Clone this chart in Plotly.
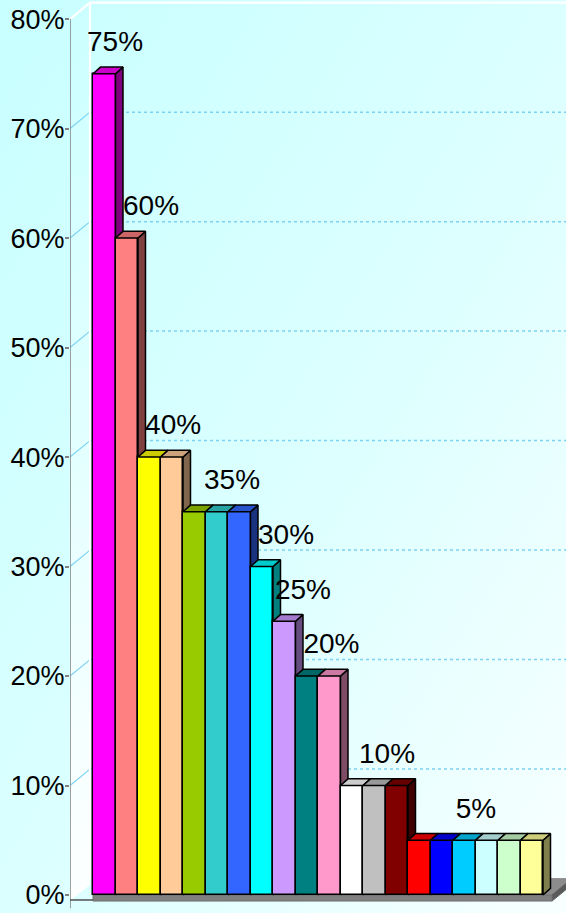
import base64
import plotly.graph_objects as go

# ---------------- data ----------------
VALUES = [75, 60, 40, 40, 35, 35, 35, 30, 25, 20, 20, 10, 10, 10, 5, 5, 5, 5, 5, 5]
COLORS = ["#FF00FF", "#FF8080", "#FFFF00", "#FFCC99", "#99CC00", "#33CCCC", "#3366FF",
          "#00FFFF", "#CC99FF", "#008080", "#FF99CC", "#FFFFFF", "#C0C0C0", "#800000",
          "#FF0000", "#0000FF", "#00CCFF", "#CCFFFF", "#CCFFCC", "#FFFF99"]
LABEL_TEXT = ["75%", "60%", "40%", "35%", "30%", "25%", "20%", "10%", "5%"]
LABEL_VALUES = [75, 60, 40, 35, 30, 25, 20, 10, 5]
LABEL_X = [0.48, 2.08, 3.06, 5.68, 8.08, 8.83, 10.1, 12.57, 16.52]
Y_TICKS = [0, 10, 20, 30, 40, 50, 60, 70, 80]
Y_TICK_TEXT = [f"{t}%" for t in Y_TICKS]

# ---------------- geometry / style ----------------
X_MIN, X_MAX = -1.522, 20.522
Y_MIN, Y_MAX = -1.64, 81.74
AXIS_X = X_MIN
WALL_DX, WALL_DV = 0.889, 1.5
BAR_DX, BAR_DV = 0.333, 0.61
LABEL_LIFT = 2.7
FLOOR_DROP = 0.55
FONT = "Liberation Sans, Arial, sans-serif"


def shade(hexcol, f):
    h = hexcol.lstrip("#")
    r, g, b = (int(h[i:i + 2], 16) for i in (0, 2, 4))
    return "#%02X%02X%02X" % (int(r * f), int(g * f), int(b * f))


def poly(xs, ys, fill, z, line_color="black", lw=1.5):
    return go.Scatter(x=xs + [xs[0]], y=ys + [ys[0]], mode="lines", fill="toself",
                      fillcolor=fill, line=dict(color=line_color, width=lw),
                      hoverinfo="skip", showlegend=False, zorder=z)


fig = go.Figure()

# side wall (between front axis and back wall)
wall_left = AXIS_X + WALL_DX
fig.add_trace(go.Scatter(
    x=[AXIS_X, AXIS_X, wall_left, wall_left, AXIS_X],
    y=[-FLOOR_DROP, Y_TICKS[-1], Y_TICKS[-1] + WALL_DV, WALL_DV - FLOOR_DROP, -FLOOR_DROP],
    mode="lines", fill="toself", line=dict(width=0),
    fillgradient=dict(type="vertical",
                      colorscale=[[0, "rgba(255,255,255,0.95)"], [0.5, "rgba(255,255,255,0.35)"],
                                  [1, "rgba(255,255,255,0)"]]),
    hoverinfo="skip", showlegend=False, zorder=-5))

# back-wall gridlines and side-wall connectors
gx, gy, cx, cy = [], [], [], []
for t in Y_TICKS[1:-1]:
    gx += [wall_left, X_MAX, None]
    gy += [t + WALL_DV, t + WALL_DV, None]
    cx += [AXIS_X, wall_left, None]
    cy += [t, t + WALL_DV, None]
fig.add_trace(go.Scatter(x=gx, y=gy, mode="lines", line=dict(color="#7CD2F2", width=1.5, dash="dot"),
                         hoverinfo="skip", showlegend=False, zorder=-4))
fig.add_trace(go.Scatter(x=cx, y=cy, mode="lines", line=dict(color="#7CD2F2", width=1.2),
                         hoverinfo="skip", showlegend=False, zorder=-4))
# white wall edges
top = Y_TICKS[-1]
fig.add_trace(go.Scatter(
    x=[AXIS_X, wall_left, X_MAX, None, wall_left, wall_left],
    y=[top, top + WALL_DV, top + WALL_DV, None, top + WALL_DV, WALL_DV],
    mode="lines", line=dict(color="white", width=2.2),
    hoverinfo="skip", showlegend=False, zorder=-4))

# floor
f_left, f_right = -0.5, 19.9
fig.add_trace(poly([f_left, f_left + WALL_DX, f_right + WALL_DX, f_right],
                   [0, WALL_DV, WALL_DV, 0], "#8C8C8C", -3, "#8C8C8C", 1))
fig.add_trace(poly([f_right, f_right, f_right + WALL_DX, f_right + WALL_DX],
                   [-FLOOR_DROP, 0, WALL_DV, WALL_DV - FLOOR_DROP], "#5A5A5A", -3, "#5A5A5A", 1))
fig.add_trace(poly([f_left, f_right, f_right, f_left],
                   [-FLOOR_DROP, -FLOOR_DROP, 0, 0], "#808080", -3, "#707070", 1))

# axis line
fig.add_trace(go.Scatter(x=[AXIS_X, AXIS_X], y=[-1.2, top], mode="lines",
                         line=dict(color="#808080", width=1.5),
                         hoverinfo="skip", showlegend=False, zorder=-2))
fig.add_trace(go.Scatter(x=[AXIS_X, f_left], y=[-0.45, -0.45], mode="lines",
                         line=dict(color="#505050", width=1.5),
                         hoverinfo="skip", showlegend=False, zorder=-2))

# 3D bars: side faces (z=0), front faces as bars (z=1), top faces (z=2)
for i, (v, c) in enumerate(zip(VALUES, COLORS)):
    x0, x1 = i - 0.5, i + 0.5
    fig.add_trace(poly([x1, x1, x1 + BAR_DX, x1 + BAR_DX], [0, v, v + BAR_DV, BAR_DV],
                       shade(c, 0.5), 0))
    fig.add_trace(poly([x0, x0 + BAR_DX, x1 + BAR_DX, x1], [v, v + BAR_DV, v + BAR_DV, v],
                       shade(c, 0.8), 2))

fig.add_trace(go.Bar(x=list(range(len(VALUES))), y=VALUES, width=1,
                     marker=dict(color=COLORS, line=dict(color="black", width=1.5)),
                     hoverinfo="skip", showlegend=False, zorder=1))

# data labels
fig.add_trace(go.Scatter(x=LABEL_X, y=[v + LABEL_LIFT for v in LABEL_VALUES],
                         mode="text", text=LABEL_TEXT, textposition="middle center",
                         textfont=dict(family=FONT, size=28, color="black"),
                         hoverinfo="skip", showlegend=False, zorder=3))

# background gradient
W, H = 566, 913
svg = (f'<svg xmlns="http://www.w3.org/2000/svg" width="{W}" height="{H}">'
       '<defs><linearGradient id="g" x1="0" y1="0" x2="1" y2="1">'
       '<stop offset="0" stop-color="#C8FFFF"/><stop offset="0.55" stop-color="#DDFFFF"/>'
       '<stop offset="1" stop-color="#F8FFFF"/></linearGradient></defs>'
       f'<rect width="{W}" height="{H}" fill="url(#g)"/></svg>')
src = "data:image/svg+xml;base64," + base64.b64encode(svg.encode()).decode()
L = 70
pw = W - L
fig.add_layout_image(dict(source=src, xref="paper", yref="paper", x=-L / pw, y=1,
                          sizex=W / pw, sizey=1, sizing="stretch", xanchor="left",
                          yanchor="top", layer="below"))

fig.update_layout(
    width=W, height=H,
    margin=dict(l=L, r=0, t=0, b=0, autoexpand=False),
    paper_bgcolor="#DDFFFF", plot_bgcolor="rgba(0,0,0,0)",
    bargap=0, showlegend=False,
    xaxis=dict(range=[X_MIN, X_MAX], visible=False, fixedrange=True, automargin=False),
    yaxis=dict(range=[Y_MIN, Y_MAX], tickvals=Y_TICKS, ticktext=Y_TICK_TEXT,
               ticks="outside", ticklen=4, tickcolor="#808080", tickwidth=1.5,
               tickfont=dict(family=FONT, size=27, color="black"),
               showgrid=False, zeroline=False, showline=False, fixedrange=True,
               ticklabelstandoff=-5, automargin=False),
)

fig.write_html("out.html", config={"displayModeBar": False},
               post_script="document.body.style.margin='0';document.body.style.overflow='hidden';")
